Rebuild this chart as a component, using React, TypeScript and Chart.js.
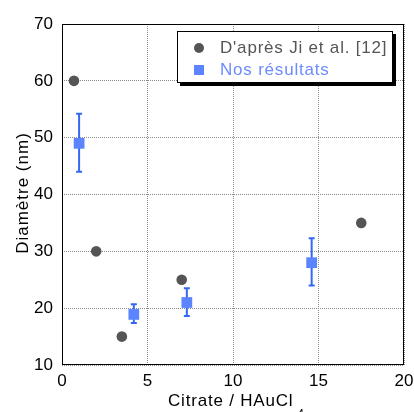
import React, { useEffect, useRef } from 'react';
import { Chart, registerables } from 'chart.js';

Chart.register(...registerables);

// Data
const jiX = [0.7, 2, 3.5, 7, 17.5];
const jiY = [60, 30, 15, 25, 35];
const ourX = [1.0, 4.2, 7.3, 14.6];
const ourY = [49, 18.9, 21, 28];
const ourLow = [44, 17.4, 18.6, 24];
const ourHigh = [54.2, 20.7, 23.5, 32.3];

const legendLabels = ["D'après Ji et al. [12]", 'Nos résultats'];
const xTitle = 'Citrate / HAuCl';
const xTitleSub = '4';
const yTitle = 'Diamètre (nm)';

const FONT = "'Liberation Sans', Arial, sans-serif";
const JI_COLOR = '#555555';
const OUR_COLOR = '#5c84ff';
const OUR_TEXT = '#6b8cff';
const ERR_COLOR = '#3468f2';

export default function App() {
  const ref = useRef<HTMLCanvasElement>(null);

  useEffect(() => {
    const canvas = ref.current;
    if (!canvas) return;

    const errorBars = {
      id: 'errorBars',
      beforeDatasetsDraw(chart: any) {
        const { ctx, scales } = chart;
        const xs = scales.x;
        const ys = scales.y;
        ctx.save();
        ctx.strokeStyle = ERR_COLOR;
        ctx.lineWidth = 2;
        for (let i = 0; i < ourX.length; i++) {
          const px = xs.getPixelForValue(ourX[i]);
          const pl = ys.getPixelForValue(ourLow[i]);
          const ph = ys.getPixelForValue(ourHigh[i]);
          ctx.beginPath();
          ctx.moveTo(px, pl);
          ctx.lineTo(px, ph);
          ctx.moveTo(px - 3, pl);
          ctx.lineTo(px + 3, pl);
          ctx.moveTo(px - 3, ph);
          ctx.lineTo(px + 3, ph);
          ctx.stroke();
        }
        ctx.restore();
      },
    };

    const decor = {
      id: 'decor',
      afterDraw(chart: any) {
        const { ctx, chartArea } = chart;
        const { left, top, right, bottom } = chartArea;
        ctx.save();
        // frame
        ctx.strokeStyle = '#000';
        ctx.lineWidth = 1;
        ctx.setLineDash([]);
        ctx.strokeRect(left + 0.5, top + 0.5, right - left - 1, bottom - top - 1);

        // legend box with shadow
        const bx = left + 115;
        const by = top + 7;
        const bw = 216;
        const bh = 52;
        ctx.fillStyle = '#000';
        ctx.fillRect(bx + 3, by + 3, bw, bh);
        ctx.fillStyle = '#fff';
        ctx.fillRect(bx, by, bw, bh);
        ctx.strokeStyle = '#000';
        ctx.strokeRect(bx + 0.5, by + 0.5, bw - 1, bh - 1);

        (ctx as any).letterSpacing = '0.8px';
        ctx.font = `17px ${FONT}`;
        ctx.textBaseline = 'middle';
        ctx.textAlign = 'left';
        // entry 1
        ctx.fillStyle = JI_COLOR;
        ctx.beginPath();
        ctx.arc(bx + 22, by + 17, 5, 0, Math.PI * 2);
        ctx.fill();
        ctx.fillText(legendLabels[0], bx + 43, by + 17);
        // entry 2
        ctx.fillStyle = OUR_COLOR;
        ctx.fillRect(bx + 17, by + 34, 10, 10);
        ctx.fillStyle = OUR_TEXT;
        ctx.fillText(legendLabels[1], bx + 43, by + 39);

        // axis titles
        ctx.fillStyle = '#000';
        ctx.font = `17px ${FONT}`;
        ctx.textBaseline = 'alphabetic';
        const mainW = ctx.measureText(xTitle).width;
        const startX = 168;
        ctx.fillText(xTitle, startX, 406);
        ctx.font = `12px ${FONT}`;
        ctx.fillText(xTitleSub, startX + mainW + 4, 418);

        (ctx as any).letterSpacing = '1px';
        ctx.font = `17px ${FONT}`;
        ctx.translate(23, 193);
        ctx.rotate(-Math.PI / 2);
        ctx.textAlign = 'center';
        ctx.textBaseline = 'middle';
        ctx.fillText(yTitle, 0, 0);
        ctx.restore();
      },
    };

    const chart = new Chart(canvas, {
      type: 'scatter',
      data: {
        datasets: [
          {
            label: legendLabels[0],
            data: jiX.map((x, i) => ({ x, y: jiY[i] })),
            backgroundColor: JI_COLOR,
            borderColor: JI_COLOR,
            pointStyle: 'circle',
            pointRadius: 5.3,
            borderWidth: 0,
          },
          {
            label: legendLabels[1],
            data: ourX.map((x, i) => ({ x, y: ourY[i] })),
            backgroundColor: OUR_COLOR,
            borderColor: OUR_COLOR,
            pointStyle: 'rect',
            pointRadius: 7.6,
            borderWidth: 0,
          },
        ],
      },
      options: {
        responsive: false,
        animation: false,
        layout: { padding: { top: 24, right: 0, left: 0, bottom: 0 } },
        plugins: { legend: { display: false }, tooltip: { enabled: false } },
        scales: {
          x: {
            type: 'linear',
            min: 0,
            max: 20,
            afterFit: (s: any) => {
              s.height = 47;
              s.paddingRight = 10;
            },
            ticks: { stepSize: 5, color: '#000', font: { family: FONT, size: 17 }, padding: 6 },
            grid: { color: '#8a8a8a', lineWidth: 1, drawTicks: false },
            border: { display: false, dash: [1, 1] },
          },
          y: {
            type: 'linear',
            min: 10,
            max: 70,
            afterFit: (s: any) => {
              s.width = 62;
            },
            ticks: { stepSize: 10, color: '#000', font: { family: FONT, size: 17 }, padding: 9 },
            grid: { color: '#8a8a8a', lineWidth: 1, drawTicks: false },
            border: { display: false, dash: [1, 1] },
          },
        },
      },
      plugins: [errorBars, decor],
    });

    return () => chart.destroy();
  }, []);

  return (
    <div style={{ position: 'absolute', left: 0, top: 0, width: 414, height: 412, background: '#fff' }}>
      <canvas ref={ref} width={414} height={412} style={{ display: 'block' }} />
    </div>
  );
}
